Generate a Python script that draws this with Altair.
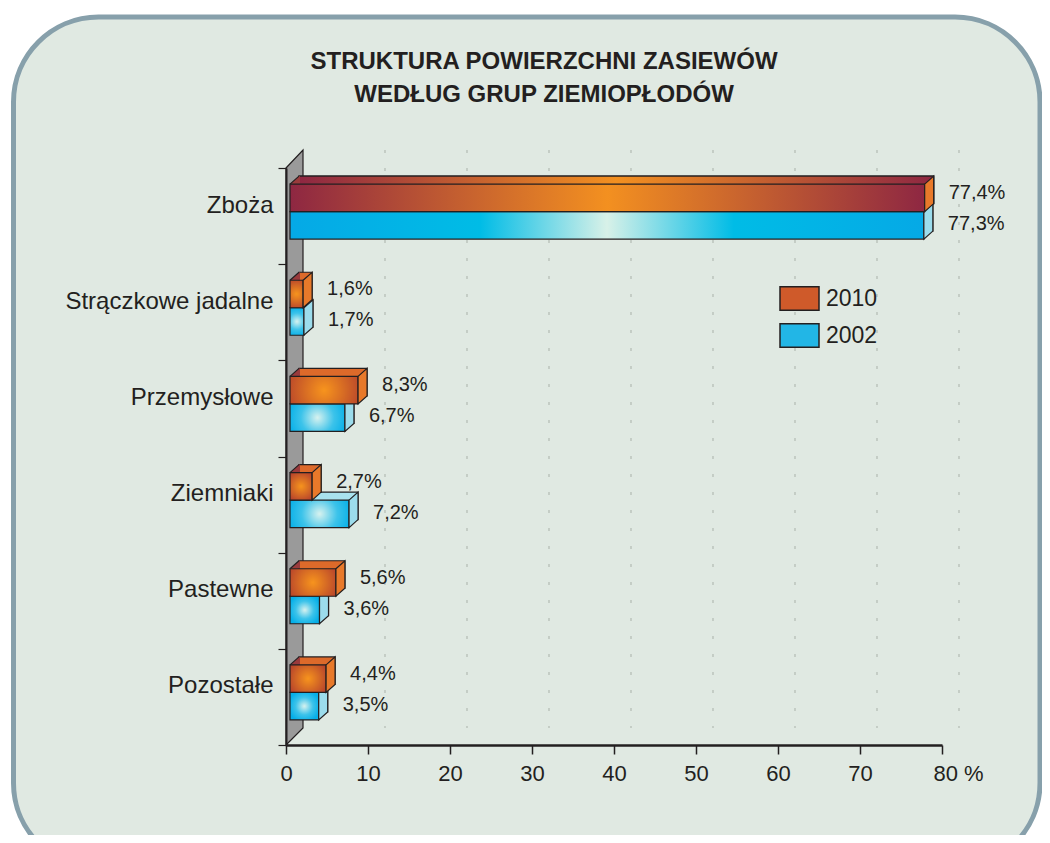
import altair as alt
import pandas as pd

# ---------------- data ----------------
categories = ["Zboża", "Strączkowe jadalne", "Przemysłowe", "Ziemniaki", "Pastewne", "Pozostałe"]
values_2010 = [77.4, 1.6, 8.3, 2.7, 5.6, 4.4]
values_2002 = [77.3, 1.7, 6.7, 7.2, 3.6, 3.5]
years = ["2010", "2002"]
x_ticks = [0, 10, 20, 30, 40, 50, 60, 70, 80]
grid_ticks = [10, 20, 30, 40, 50, 60, 70, 80]
title_lines = ["STRUKTURA POWIERZCHNI ZASIEWÓW", "WEDŁUG GRUP ZIEMIOPŁODÓW"]

rows = []
for c, a, b in zip(categories, values_2010, values_2002):
    rows.append({"cat": c, "year": "2010", "value": a})
    rows.append({"cat": c, "year": "2002", "value": b})
df = pd.DataFrame(rows)
df["big"] = df["value"] > 50
df["label"] = df["value"].map(lambda v: f"{v:.1f}".replace(".", ",") + "%")
df["zero"] = 0.0

one = pd.DataFrame({"k": [0]})
grid_df = pd.DataFrame({"t": grid_ticks})

# ---------------- style ----------------
FONT = "Liberation Sans"
TXT = "#231f20"
EDGE = "#231f20"
W, H = 656, 577
BAR_H = 27.5
DX, DY = 9, 8          # depth of the 3-D effect
X0 = 4                 # bars start slightly right of the axis

x_scale = alt.Scale(domain=[0, 80], nice=False, zero=True)
y_scale = alt.Scale(domain=categories, paddingInner=0, paddingOuter=0)

x_axis = alt.Axis(
    title=None, values=x_ticks, grid=False, zindex=1,
    domainColor=EDGE, domainWidth=2.5, tickColor=EDGE, tickWidth=1.5, tickSize=9,
    labelFont=FONT, labelFontSize=22, labelColor=TXT, labelPadding=9,
    labelFlush=False, labelOverlap=False,
    labelExpr="datum.value == 80 ? '80 %' : datum.label",
    labelAlign={"condition": {"test": "datum.value == 80", "value": "left"}, "value": "center"},
    labelOffset={"condition": {"test": "datum.value == 80", "value": -9}, "value": 0},
)
y_axis = alt.Axis(
    title=None, grid=False, zindex=1, tickBand="extent",
    domainColor=EDGE, domainWidth=2, tickColor=EDGE, tickWidth=1.2, tickSize=8,
    labelFont=FONT, labelFontSize=24, labelColor=TXT, labelPadding=5,
    labelOffset=-11, labelLimit=400,
)

X = alt.X("value:Q", scale=x_scale, axis=x_axis)
X_ZERO = alt.X("zero:Q", scale=x_scale, axis=x_axis)
Y = alt.Y("cat:N", scale=y_scale, axis=y_axis, sort=categories)


def stops(pairs):
    return [{"offset": o, "color": c} for o, c in pairs]


def linear(pairs):
    return {"gradient": "linear", "x1": 0, "y1": 0, "x2": 1, "y2": 0, "stops": stops(pairs)}


def radial(pairs, r=0.6):
    return {"gradient": "radial", "x1": 0.5, "y1": 0.5, "r1": 0, "x2": 0.5, "y2": 0.5, "r2": r,
            "stops": stops(pairs)}


STYLE = {
    "2010": {
        "center": -4.5 - BAR_H / 2,
        "top": "#dd6a2a",
        "side": "#e8792a",
        "big": linear([(0, "#8e2742"), (0.5, "#f39020"), (1, "#8e2742")]),
        "small": radial([(0, "#f7941d"), (1, "#b4402c")]),
        "dy": -23,
    },
    "2002": {
        "center": -4.5 + BAR_H / 2,
        "top": "#a9e2ee",
        "side": "#9cdcec",
        "big": linear([(0, "#05a9e6"), (0.3, "#00bce6"), (0.5, "#d8f1e8"), (0.7, "#00bce6"), (1, "#05a9e6")]),
        "small": radial([(0, "#d8f2ef"), (0.55, "#3cc3ea"), (1, "#06afe8")], r=0.55),
        "dy": 8,
    },
}

h2 = BAR_H / 2
LEFT_TRI = f"M0,{-h2}L{DX},{-h2 - DY}L{DX + 1},{-h2 - DY}L{DX + 1},{-h2}Z"
LEFT_DIAG = f"M0,{-h2}L{DX},{-h2 - DY}"
SIDE = f"M0,{-h2}L{DX},{-h2 - DY}L{DX},{h2 - DY}L0,{h2}Z"
WALL = f"M0,0L17,-18L17,{H - 17}L0,{H}Z"
LEG_RECT = "M-1,-0.6L1,-0.6L1,0.6L-1,0.6Z"

base = alt.Chart(df)

layers = []

# legend source (hidden beneath the frame)
layers.append(
    base.mark_bar(height=BAR_H).encode(
        x=X, y=Y,
        color=alt.Color(
            "year:N",
            scale=alt.Scale(domain=years, range=["#cf5a2a", "#22b6e6"]),
            sort=years,
            legend=alt.Legend(
                title=None, orient="none", legendX=493, legendY=110,
                symbolType=LEG_RECT, symbolSize=1521, symbolStrokeColor=EDGE,
                symbolStrokeWidth=1.5, symbolOpacity=1,
                labelFont=FONT, labelFontSize=23, labelColor=TXT, labelOffset=6,
                rowPadding=1, padding=0, zindex=1,
            ),
        ),
    )
)

# rounded frame
layers.append(
    alt.Chart(one).mark_rect(cornerRadius=85, fill="#e0e9e2", stroke="#87a0ab", strokeWidth=5).encode(
        x=alt.value(-272.5), x2=alt.value(754), y=alt.value(-151), y2=alt.value(700)
    )
)

# dotted back-wall grid
layers.append(
    alt.Chart(grid_df).mark_rule(xOffset=17, color="#a9b1a9", strokeDash=[3, 15], strokeWidth=1).encode(
        x=alt.X("t:Q", scale=x_scale, axis=x_axis), y=alt.value(-18), y2=alt.value(H - 17)
    )
)

# grey side wall
layers.append(
    alt.Chart(one).mark_point(shape=WALL, size=4, filled=True, color="#9a9a9a", stroke=EDGE,
                              strokeWidth=1.2, opacity=1).encode(x=alt.value(0), y=alt.value(0))
)

for yr in ["2002", "2010"]:
    s = STYLE[yr]
    c = s["center"]
    d = base.transform_filter(alt.datum.year == yr)
    # back bar (top face)
    layers.append(
        d.mark_bar(height=BAR_H, yOffset=c - DY, xOffset=X0 + DX, x2Offset=X0 + DX,
                   color=s["top"], stroke=EDGE, strokeWidth=1.2).encode(x=X, y=Y)
    )
    if yr == "2010":
        layers.append(
            d.transform_filter(alt.datum.big).mark_bar(
                height=BAR_H, yOffset=c - DY, xOffset=X0 + DX, x2Offset=X0 + DX,
                color=s["big"], stroke=EDGE, strokeWidth=1.2).encode(x=X, y=Y)
        )
    # left corner of the top face
    layers.append(
        d.mark_point(shape=LEFT_TRI, size=4, filled=True, color=s["top"] if yr == "2002" else "#9a3a3c",
                     strokeWidth=0, opacity=1, xOffset=X0, yOffset=c).encode(x=X_ZERO, y=Y)
    )
    layers.append(
        d.mark_point(shape=LEFT_DIAG, size=4, filled=False, color=EDGE, strokeWidth=1.2,
                     opacity=1, xOffset=X0, yOffset=c).encode(x=X_ZERO, y=Y)
    )
    # front faces
    layers.append(
        d.transform_filter(~alt.datum.big).mark_bar(
            height=BAR_H, yOffset=c, xOffset=X0, x2Offset=X0,
            color=s["small"], stroke=EDGE, strokeWidth=1.2).encode(x=X, y=Y)
    )
    layers.append(
        d.transform_filter(alt.datum.big).mark_bar(
            height=BAR_H, yOffset=c, xOffset=X0, x2Offset=X0,
            color=s["big"], stroke=EDGE, strokeWidth=1.2).encode(x=X, y=Y)
    )
    # side face
    layers.append(
        d.mark_point(shape=SIDE, size=4, filled=True, color=s["side"], stroke=EDGE,
                     strokeWidth=1.2, opacity=1, xOffset=X0, yOffset=c).encode(x=X, y=Y)
    )

# value labels
for yr in ["2010", "2002"]:
    s = STYLE[yr]
    layers.append(
        base.transform_filter(alt.datum.year == yr).mark_text(
            align="left", baseline="middle", dx=28, dy=s["dy"], font=FONT, fontSize=20, color=TXT
        ).encode(x=X, y=Y, text="label:N")
    )

# title
layers.append(
    alt.Chart(one).mark_text(align="center", baseline="alphabetic", font=FONT, fontSize=24,
                             fontWeight="bold", color=TXT, lineHeight=33).encode(
        x=alt.value(258), y=alt.value(-99), text=alt.value(title_lines)
    )
)

chart = alt.layer(*layers).properties(
    width=W, height=H,
    padding={"left": 278, "top": 160, "right": 100, "bottom": 90},
    autosize=alt.AutoSizeParams(type="none"),
    background="white",
).configure_view(stroke=None)

chart.save("out.html", embed_options={"renderer": "svg", "actions": False})
